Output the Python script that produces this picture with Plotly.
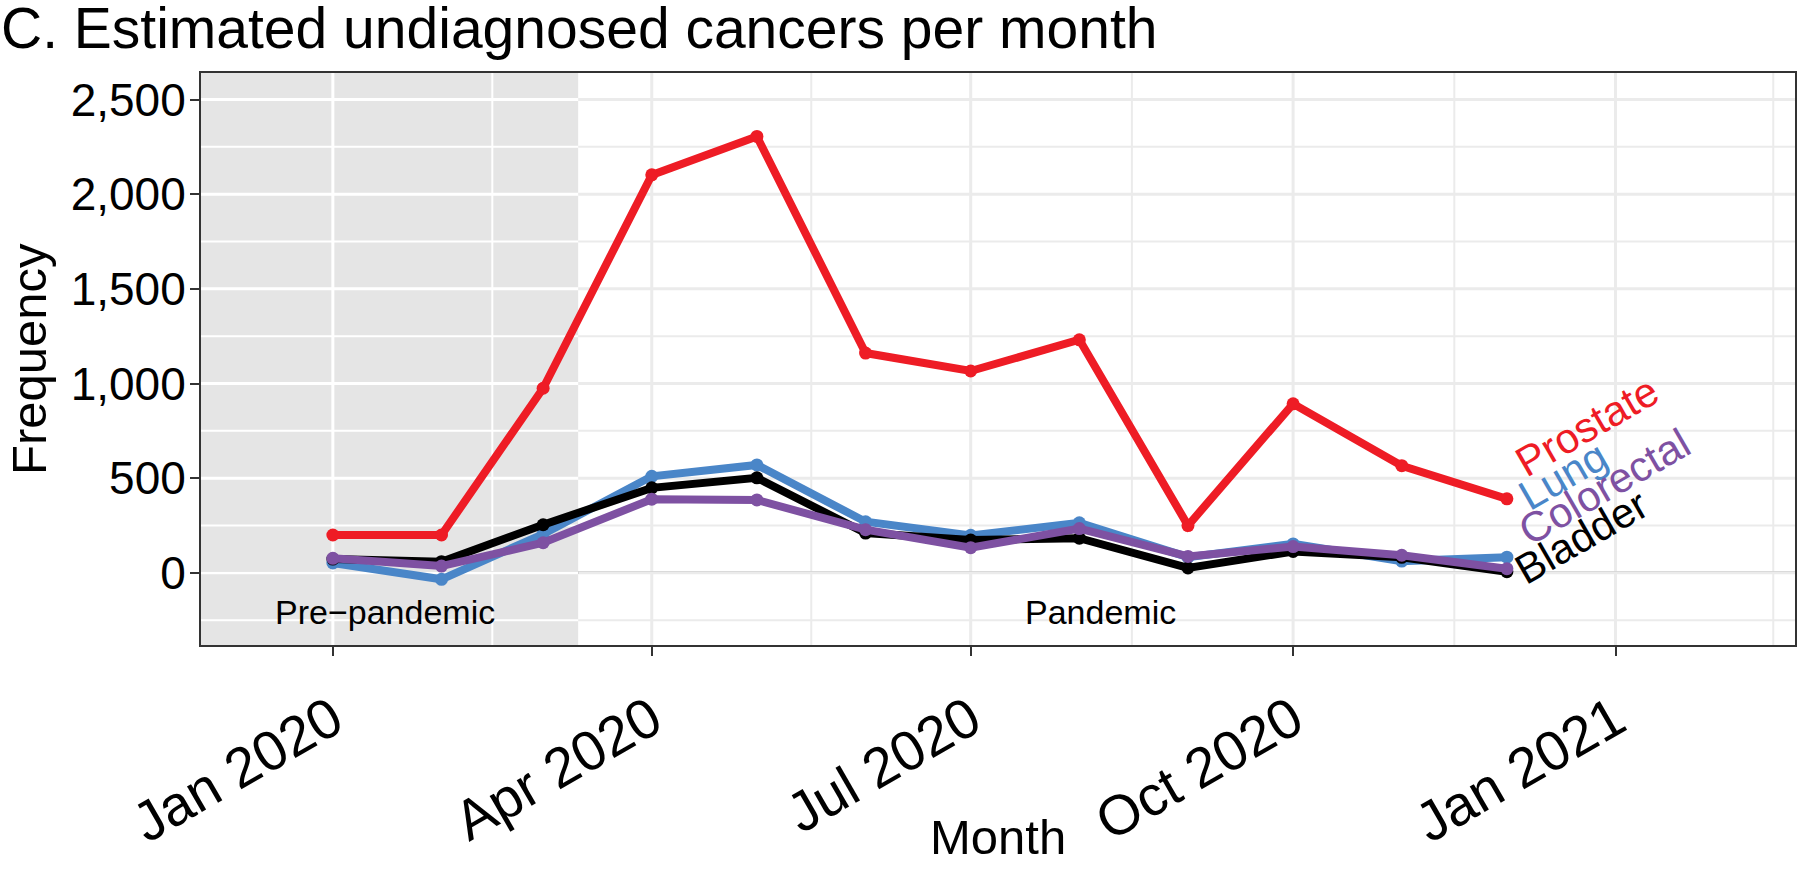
import plotly.graph_objects as go

months = ["2020-01-01", "2020-02-01", "2020-03-01", "2020-04-01", "2020-05-01", "2020-06-01",
          "2020-07-01", "2020-08-01", "2020-09-01", "2020-10-01", "2020-11-01", "2020-12-01"]
prostate = [200, 200, 975, 2102, 2305, 1161, 1066, 1231, 250, 893, 566, 391]
lung = [52, -34, 205, 510, 570, 270, 198, 264, 83, 153, 62, 83]
colorectal = [77, 36, 159, 389, 385, 228, 133, 234, 87, 139, 93, 22]
bladder = [73, 59, 254, 449, 502, 210, 173, 183, 26, 113, 82, 6]

series = [  # name, values, colour, label shift (px)
    ("Lung", lung, "#4A86C8", (56, 82)),
    ("Bladder", bladder, "#000000", (75, 35)),
    ("Colorectal", colorectal, "#7E51A2", (98, 82)),
    ("Prostate", prostate, "#EE1C25", (80, 72)),
]

x_range = ["2019-11-24 09:00", "2021-02-21 05:00"]
y_range = [-381, 2640]
pandemic_start = "2020-03-11"
major_y = [0, 500, 1000, 1500, 2000, 2500]
minor_y = [-250, 250, 750, 1250, 1750, 2250]
major_x = ["2020-01-01", "2020-04-01", "2020-07-01", "2020-10-01", "2021-01-01"]
major_x_text = ["Jan 2020", "Apr 2020", "Jul 2020", "Oct 2020", "Jan 2021"]
minor_x = ["2020-02-15 12:00", "2020-05-16 12:00", "2020-08-16", "2020-11-16", "2021-02-15"]

FONT = "Liberation Sans, Arial, Helvetica, sans-serif"
GRID = "#EBEBEB"
SHADE = "#E5E5E5"
MAJ_W, MIN_W = 3, 2

W, H = 1800, 873
ML, MR, MT, MB = 201, 5, 72.5, 227.5
PW = W - ML - MR
PH = H - MT - MB

fig = go.Figure()
for name, vals, col, _ in series:
    fig.add_trace(go.Scatter(x=months, y=vals, mode="lines+markers", name=name,
                             line=dict(color=col, width=8),
                             marker=dict(color=col, size=13), showlegend=False))

shapes = [dict(type="rect", xref="x", yref="y domain", x0=x_range[0], x1=pandemic_start,
               y0=0, y1=1, fillcolor=SHADE, line=dict(width=0), layer="below")]
for yv in minor_y + major_y:
    w = MAJ_W if yv in major_y else MIN_W
    shapes.append(dict(type="line", xref="x", yref="y", x0=x_range[0], x1=pandemic_start,
                       y0=yv, y1=yv, line=dict(color="white", width=w), layer="below"))
    shapes.append(dict(type="line", xref="x", yref="y", x0=pandemic_start, x1=x_range[1],
                       y0=yv, y1=yv, line=dict(color=GRID, width=w), layer="below"))
for xs, w in [(minor_x, MIN_W), (major_x, MAJ_W)]:
    for xv in xs:
        col = "white" if xv < pandemic_start else GRID
        shapes.append(dict(type="line", xref="x", yref="y domain", x0=xv, x1=xv, y0=0, y1=1,
                           line=dict(color=col, width=w), layer="below"))
shapes.append(dict(type="line", xref="x domain", yref="y", x0=0, x1=1, y0=0, y1=0,
                   line=dict(color="#555555", width=2.5), layer="below"))

annotations = []
for name, vals, col, (dx, dy) in series:
    annotations.append(dict(x=months[-1], y=vals[-1], xref="x", yref="y", text=name,
                            showarrow=False, textangle=-30, xanchor="center", yanchor="middle",
                            xshift=dx, yshift=dy, font=dict(family=FONT, size=42, color=col)))
annotations += [
    dict(x="2020-01-16", y=-205, xref="x", yref="y", text="Pre\u2212pandemic", showarrow=False,
         xanchor="center", yanchor="middle", font=dict(family=FONT, size=34, color="black")),
    dict(x="2020-08-07", y=-205, xref="x", yref="y", text="Pandemic", showarrow=False,
         xanchor="center", yanchor="middle", font=dict(family=FONT, size=34, color="black")),
    dict(x=(29 - ML) / PW, y=0.5, xref="paper", yref="paper", text="Frequency", textangle=-90,
         showarrow=False, xanchor="center", yanchor="middle",
         font=dict(family=FONT, size=49, color="black")),
    dict(x=0.5, y=(H - MB - 838) / PH, xref="paper", yref="paper", text="Month",
         showarrow=False, xanchor="center", yanchor="middle",
         font=dict(family=FONT, size=49, color="black")),
    dict(x=-(ML + 1) / PW, y=1 + (MT - 27) / PH, xref="paper", yref="paper",
         text="C. Estimated undiagnosed cancers per month", showarrow=False,
         xanchor="left", yanchor="middle", font=dict(family=FONT, size=57, color="black")),
]

fig.update_layout(
    width=W, height=H,
    margin=dict(l=ML, r=MR, t=MT, b=MB, pad=0),
    paper_bgcolor="white", plot_bgcolor="white",
    font=dict(family=FONT, color="black"),
    shapes=shapes, annotations=annotations,
)
fig.update_xaxes(
    type="date", range=x_range, tickmode="array", tickvals=major_x, ticktext=major_x_text,
    tickangle=-30, tickfont=dict(family=FONT, size=56, color="black"),
    ticks="outside", ticklen=9, tickwidth=2, tickcolor="#333333",
    showgrid=False, automargin=False, ticklabelstandoff=9,
    showline=True, linecolor="#333333", linewidth=2, mirror=True, zeroline=False,
)
fig.update_yaxes(
    range=y_range, tickmode="array", tickvals=major_y,
    ticktext=[f"{v:,}" for v in major_y],
    tickfont=dict(family=FONT, size=46, color="black"),
    ticks="outside", ticklen=9, tickwidth=2, tickcolor="#333333",
    showgrid=False, automargin=False, ticklabelstandoff=-5,
    showline=True, linecolor="#333333", linewidth=2, mirror=True, zeroline=False,
)

# remove the browser's default 8px page margin so the figure fills the window exactly
fig.write_html("out.html", config={"displayModeBar": False},
               post_script="document.body.style.margin='0px';"
                           "document.documentElement.style.overflow='hidden';")
